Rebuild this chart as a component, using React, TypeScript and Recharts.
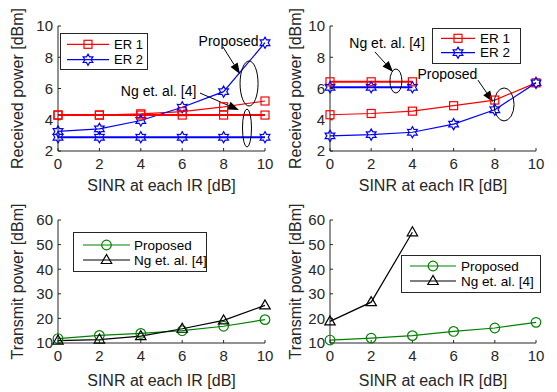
import React from 'react';
import { LineChart, Line, XAxis, YAxis, ReferenceDot, ReferenceLine, Legend } from 'recharts';

const FONT = '"Liberation Sans", Arial, Helvetica, sans-serif';
const AX = '#262626';

// x axis: SINR at each IR [dB]
const sinr = [0, 2, 4, 6, 8, 10];

// (a) received power [dBm]
const aPropER1 = [4.3, 4.3, 4.38, 4.52, 4.83, 5.2];
const aPropER2 = [3.25, 3.42, 3.95, 4.8, 5.8, 8.93];
const aNgER1 = [4.3, 4.3, 4.3, 4.3, 4.3, 4.3];
const aNgER2 = [2.88, 2.88, 2.88, 2.88, 2.88, 2.88];

// (b) received power [dBm]
const bPropER1 = [4.32, 4.4, 4.55, 4.9, 5.26, 6.36];
const bPropER2 = [2.97, 3.05, 3.2, 3.72, 4.64, 6.36];
const bNgER1 = [6.43, 6.43, 6.43, null, null, null];
const bNgER2 = [6.08, 6.08, 6.08, null, null, null];

// (c) transmit power [dBm]
const cProp = [11.8, 13.1, 13.9, 15.0, 16.8, 19.5];
const cNg = [11.0, 11.4, 12.8, 15.8, 19.2, 25.3];

// (d) transmit power [dBm]
const dProp = [11.2, 12.0, 13.0, 14.7, 16.1, 18.4];
const dNg = [18.8, 26.6, 55.0, null, null, null];

const xTicks = [0, 2, 4, 6, 8, 10];
const rxTicks = [2, 4, 6, 8, 10];
const txTicks = [10, 20, 30, 40, 50, 60];

const erLabels = ['ER 1', 'ER 2'];
const schemeLabels = ['Proposed', 'Ng et. al. [4]'];

type Kind = 'square' | 'hex' | 'circle' | 'tri';

function Marker({ kind, cx, cy, color }: { kind: Kind; cx: number; cy: number; color: string }) {
  if (kind === 'square') {
    return <rect x={cx - 4} y={cy - 4} width={8} height={8} fill="none" stroke={color} strokeWidth={1.2} />;
  }
  if (kind === 'circle') {
    return <circle cx={cx} cy={cy} r={4.8} fill="none" stroke={color} strokeWidth={1.2} />;
  }
  if (kind === 'tri') {
    const pts = `${cx},${cy - 5.5} ${cx - 5.2},${cy + 3.5} ${cx + 5.2},${cy + 3.5}`;
    return <polygon points={pts} fill="none" stroke={color} strokeWidth={1.2} />;
  }
  const pts: string[] = [];
  for (let k = 0; k < 12; k++) {
    const a = (-90 + k * 30) * Math.PI / 180;
    const r = k % 2 === 0 ? 5.6 : 3.2;
    pts.push(`${cx + r * Math.cos(a)},${cy + r * Math.sin(a)}`);
  }
  return <polygon points={pts.join(' ')} fill="none" stroke={color} strokeWidth={1.2} />;
}

const dotFn = (kind: Kind, color: string) => (p: any) => {
  if (p.cx == null || p.cy == null || p.value == null) return <g key={`e${p.index}`} />;
  return <Marker key={`d${p.index}`} kind={kind} cx={p.cx} cy={p.cy} color={color} />;
};

const arrowShape = (p: any) => {
  const { x1, y1, x2, y2 } = p;
  const dx = x2 - x1;
  const dy = y2 - y1;
  const len = Math.hypot(dx, dy) || 1;
  const ux = dx / len;
  const uy = dy / len;
  const hl = 11;
  const hw = 4.2;
  const bx = x2 - ux * hl;
  const by = y2 - uy * hl;
  return (
    <g>
      <line x1={x1} y1={y1} x2={bx} y2={by} stroke="#000" strokeWidth={1} />
      <polygon points={`${x2},${y2} ${bx - uy * hw},${by + ux * hw} ${bx + uy * hw},${by - ux * hw}`} fill="#000" />
    </g>
  );
};

const ellipseShape = (rx: number, ry: number) => (p: any) => (
  <ellipse cx={p.cx} cy={p.cy} rx={rx} ry={ry} fill="none" stroke="#000" strokeWidth={1} />
);

const textShape = (label: string) => (p: any) => (
  <text x={p.cx} y={p.cy} textAnchor="middle" dominantBaseline="central" fontSize={14} fontFamily={FONT} fill="#000">
    {label}
  </text>
);

interface Series { key: string; color: string; kind: Kind; width: number }
interface Note { type: 'text' | 'ellipse' | 'arrow'; label?: string; x: number; y: number; x2?: number; y2?: number; rx?: number; ry?: number }
interface LegendDef { x: number; y: number; w: number; h: number; rows: number[]; l0: number; l1: number; tx: number; fs: number }

interface PanelProps {
  left: number; top: number; width: number; height: number;
  margin: { top: number; right: number; bottom: number; left: number };
  title: string; titleOffset: number;
  yLabel: string; yLabelOffset: number; xLabelOffset: number;
  yDomain: [number, number]; yTicks: number[];
  data: any[]; series: Series[];
  legend: LegendDef; legendLabels: string[];
  notes: Note[];
}

function Panel(P: PanelProps) {
  const legSeries = P.series.slice(0, 2);
  const L = P.legend;
  const content = () => (
    <svg width={L.w} height={L.h} style={{ display: 'block' }}>
      <rect x={0.5} y={0.5} width={L.w - 1} height={L.h - 1} fill="#fff" stroke={AX} strokeWidth={1} />
      {P.legendLabels.map((lab, i) => {
        const y = L.rows[i];
        const s = legSeries[i];
        return (
          <g key={lab}>
            <line x1={L.l0} y1={y} x2={L.l1} y2={y} stroke={s.color} strokeWidth={1.2} />
            <Marker kind={s.kind} cx={(L.l0 + L.l1) / 2} cy={y} color={s.color} />
            <text x={L.tx} y={y} dominantBaseline="central" fontSize={L.fs} fontFamily={FONT} fill="#000">
              {lab}
            </text>
          </g>
        );
      })}
    </svg>
  );
  const tickStyle = { fontSize: 15, fill: AX, fontFamily: FONT };
  return (
    <div style={{ position: 'absolute', left: P.left, top: P.top }}>
      <LineChart width={P.width} height={P.height} data={P.data} margin={P.margin} style={{ fontFamily: FONT }}>
        <XAxis
          dataKey="x" type="number" domain={[0, 10]} ticks={xTicks} height={40}
          stroke={AX} tickSize={-3} tickMargin={10} tick={tickStyle}
          label={{ value: 'SINR at each IR [dB]', position: 'insideBottom', offset: P.xLabelOffset, fontSize: 16, fill: AX, fontFamily: FONT }}
        />
        <XAxis
          xAxisId="top" orientation="top" type="number" domain={[0, 10]} ticks={xTicks} height={0}
          stroke={AX} tickSize={-3} tickFormatter={() => ''}
          label={{ value: P.title, position: 'top', offset: P.titleOffset, fontSize: 13, fontWeight: 'bold', fill: '#000', fontFamily: FONT }}
        />
        <YAxis
          type="number" domain={P.yDomain} ticks={P.yTicks} width={40}
          stroke={AX} tickSize={-3} tickMargin={8} tick={tickStyle}
          label={{ value: P.yLabel, angle: -90, position: 'insideLeft', offset: P.yLabelOffset, fontSize: 16, fill: AX, fontFamily: FONT, style: { textAnchor: 'middle' } }}
        />
        <YAxis
          yAxisId="r" orientation="right" type="number" domain={P.yDomain} ticks={P.yTicks} width={0}
          stroke={AX} tickSize={-3} tickFormatter={() => ''}
        />
        {P.series.map((s) => (
          <Line
            key={s.key} dataKey={s.key} type="linear" stroke={s.color} strokeWidth={s.width}
            dot={dotFn(s.kind, s.color)} activeDot={false} isAnimationActive={false} connectNulls={false}
          />
        ))}
        {P.notes.map((n, i) => {
          if (n.type === 'arrow') {
            return (
              <ReferenceLine key={`n${i}`} segment={[{ x: n.x, y: n.y }, { x: n.x2, y: n.y2 }]} shape={arrowShape} ifOverflow="visible" />
            );
          }
          if (n.type === 'ellipse') {
            return <ReferenceDot key={`n${i}`} x={n.x} y={n.y} shape={ellipseShape(n.rx || 5, n.ry || 5)} ifOverflow="visible" />;
          }
          return <ReferenceDot key={`n${i}`} x={n.x} y={n.y} shape={textShape(n.label || '')} ifOverflow="visible" />;
        })}
        <Legend
          layout="horizontal" align="center" verticalAlign="middle" content={content}
          wrapperStyle={{ left: L.x, top: L.y, width: L.w, height: L.h }}
        />
      </LineChart>
    </div>
  );
}

const dataA = sinr.map((x, i) => ({ x, p1: aPropER1[i], p2: aPropER2[i], n1: aNgER1[i], n2: aNgER2[i] }));
const dataB = sinr.map((x, i) => ({ x, p1: bPropER1[i], p2: bPropER2[i], n1: bNgER1[i], n2: bNgER2[i] }));
const dataC = sinr.map((x, i) => ({ x, p: cProp[i], n: cNg[i] }));
const dataD = sinr.map((x, i) => ({ x, p: dProp[i], n: dNg[i] }));

const erSeries: Series[] = [
  { key: 'p1', color: '#ff0000', kind: 'square', width: 1.2 },
  { key: 'p2', color: '#0000ff', kind: 'hex', width: 1.2 },
  { key: 'n1', color: '#ff0000', kind: 'square', width: 2 },
  { key: 'n2', color: '#0000ff', kind: 'hex', width: 2 },
];
const txSeries: Series[] = [
  { key: 'p', color: '#008000', kind: 'circle', width: 1.2 },
  { key: 'n', color: '#000000', kind: 'tri', width: 1.2 },
];

const notesA: Note[] = [
  { type: 'text', label: 'Proposed', x: 8.24, y: 9.04 },
  { type: 'arrow', x: 7.97, y: 8.66, x2: 8.79, y2: 6.93 },
  { type: 'ellipse', x: 9.23, y: 6.32, rx: 9, ry: 22.5 },
  { type: 'text', label: 'Ng et. al. [4]', x: 4.86, y: 5.84 },
  { type: 'arrow', x: 6.86, y: 5.71, x2: 8.74, y2: 4.62 },
  { type: 'ellipse', x: 9.13, y: 3.47, rx: 4.5, ry: 19 },
];
const notesB: Note[] = [
  { type: 'text', label: 'Ng et. al. [4]', x: 2.77, y: 8.91 },
  { type: 'arrow', x: 2.18, y: 8.34, x2: 3.06, y2: 7.06 },
  { type: 'ellipse', x: 3.2, y: 6.48, rx: 6, ry: 12 },
  { type: 'text', label: 'Proposed', x: 5.7, y: 6.96 },
  { type: 'arrow', x: 7.18, y: 6.54, x2: 7.91, y2: 5.14 },
  { type: 'ellipse', x: 8.45, y: 4.98, rx: 10, ry: 16.5 },
];

export default function App() {
  return (
    <div style={{ position: 'absolute', left: 0, top: 0, width: 557, height: 392, background: '#fff', fontFamily: FONT }}>
      <Panel
        left={0} top={0} width={278} height={196} margin={{ top: 26, right: 13, bottom: 5, left: 18 }}
        title="(a)" titleOffset={8} yLabel="Received power [dBm]" yLabelOffset={-1} xLabelOffset={0}
        yDomain={[2, 10]} yTicks={rxTicks} data={dataA} series={erSeries}
        legend={{ x: 60, y: 33, w: 88, h: 37, rows: [11.3, 26.7], l0: 7, l1: 49, tx: 54, fs: 13 }} legendLabels={erLabels}
        notes={notesA}
      />
      <Panel
        left={278} top={0} width={279} height={196} margin={{ top: 26, right: 21, bottom: 5, left: 12 }}
        title="(b)" titleOffset={8} yLabel="Received power [dBm]" yLabelOffset={5} xLabelOffset={0}
        yDomain={[2, 10]} yTicks={rxTicks} data={dataB} series={erSeries}
        legend={{ x: 154, y: 28, w: 89, h: 36, rows: [10.3, 24.7], l0: 9, l1: 43, tx: 48, fs: 13.5 }} legendLabels={erLabels}
        notes={notesB}
      />
      <Panel
        left={0} top={196} width={278} height={196} margin={{ top: 24, right: 13, bottom: 9, left: 18 }}
        title="(c)" titleOffset={6.5} yLabel="Transmit power [dBm]" yLabelOffset={-1} xLabelOffset={-3}
        yDomain={[10, 60]} yTicks={txTicks} data={dataC} series={txSeries}
        legend={{ x: 73, y: 36, w: 134, h: 40, rows: [13, 28], l0: 10, l1: 57, tx: 61, fs: 13.5 }} legendLabels={schemeLabels}
        notes={[]}
      />
      <Panel
        left={278} top={196} width={279} height={196} margin={{ top: 24, right: 21, bottom: 9, left: 12 }}
        title="(d)" titleOffset={6.5} yLabel="Transmit power [dBm]" yLabelOffset={5} xLabelOffset={-3}
        yDomain={[10, 60]} yTicks={txTicks} data={dataD} series={txSeries}
        legend={{ x: 123, y: 59, w: 140, h: 38, rows: [11, 26], l0: 9, l1: 55, tx: 60, fs: 13.5 }} legendLabels={schemeLabels}
        notes={[]}
      />
    </div>
  );
}
